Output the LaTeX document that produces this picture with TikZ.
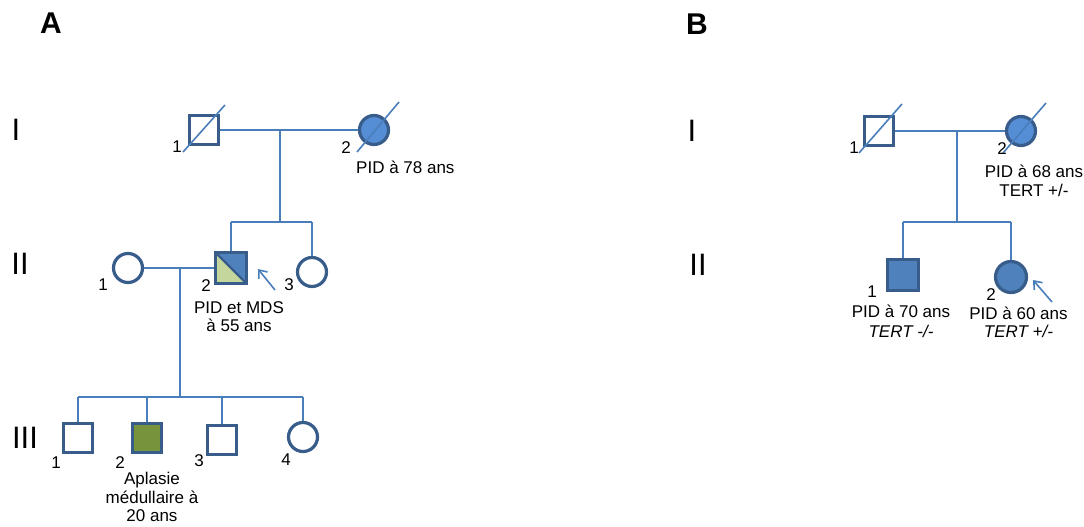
\documentclass[tikz,border=0pt]{standalone}
\usepackage{fontspec}
\setmainfont{Liberation Sans}
\usetikzlibrary{arrows.meta,calc}
\definecolor{outl}{HTML}{385D8A}
\definecolor{lnc}{HTML}{4A7EBB}
\definecolor{fblue}{HTML}{558ED5}
\definecolor{mblue}{HTML}{4F81BD}
\definecolor{lgreen}{HTML}{C3D69B}
\definecolor{olive}{HTML}{77933C}
\tikzset{
  sq/.style={draw=outl, line width=3.2pt, minimum size=29pt, inner sep=0pt, fill=white},
  ci/.style={draw=outl, line width=3.2pt, circle, minimum size=29pt, inner sep=0pt, fill=white},
  lnk/.style={draw=lnc, line width=1.6pt},
  diag/.style={draw=lnc, line width=1.6pt},
  arr/.style={draw=lnc, line width=1.6pt, -{Straight Barb[length=7pt,width=11pt,line width=1.6pt]}},
  txt/.style={font=\fontsize{17}{19}\selectfont, inner sep=0pt, align=center},
  gen/.style={font=\fontsize{31}{34}\selectfont, inner sep=0pt},
  pan/.style={font=\fontsize{30}{34}\selectfont\bfseries, inner sep=0pt}
}
\begin{document}
\begin{tikzpicture}[x=1pt,y=-1pt]
\useasboundingbox (0,0) rectangle (1084,527);
% panel labels
\node[pan] (PA) at (51,23) {A};
\node[pan] (PB) at (697,24) {B};
\node[gen] (gA1) at (16,130) {I};
\node[gen] (gA2) at (20,264) {II};
\node[gen] (gA3) at (25,438) {III};
\node[gen] (gB1) at (692,131) {I};
\node[gen] (gB2) at (698,265) {II};

% ===== Panel A =====
\node[sq] (AI1) at (204,130) {};
\node[ci, fill=fblue] (AI2) at (374,130) {};
\coordinate (Am1) at (280,130);
\coordinate (As1) at (280,222);
\draw[lnk] (AI1.east) -- (AI2.west);
\draw[lnk] (Am1) -- (As1);
\draw[diag] ($(AI1)+(-21,22)$) -- ($(AI1)+(21,-25)$);
\draw[diag] ($(AI2)+(-17,22)$) -- ($(AI2)+(25,-28)$);
\node[txt] (lAI1) at (177,147) {1};
\node[txt] (lAI2) at (346,148) {2};
\node[txt, anchor=west] (tAI2) at (356,167) {PID à 78 ans};

\node[ci] (AII1) at (128,268) {};
\node[sq, minimum size=31pt, fill=mblue,
  path picture={\fill[lgreen] (path picture bounding box.north west) -- (path picture bounding box.south west) -- (path picture bounding box.south east) -- cycle;
  \draw[outl, line width=2.2pt] (path picture bounding box.north west) -- (path picture bounding box.south east);}] (AII2) at (231,268) {};
\node[ci] (AII3) at (312,272) {};
\draw[lnk] (AII2.north |- As1) -- (AII3.north |- As1);
\draw[lnk] (AII2.north |- As1) -- (AII2.north);
\draw[lnk] (AII3.north |- As1) -- (AII3.north);
\draw[lnk] (AII1.east) -- (AII2.west);
\coordinate (Am2) at (180,268);
\coordinate (As2) at (180,397);
\draw[lnk] (Am2) -- (As2);
\node[txt] (lAII1) at (103,285) {1};
\node[txt] (lAII2) at (206,286) {2};
\node[txt] (lAII3) at (289,285) {3};
\coordinate (Aarr) at (275,290);
\draw[arr] (Aarr) -- ($(AII2)+(27,1)$);
\node[txt, font=\fontsize{17}{18.5}\selectfont] (tAII2) at (239,316.5) {PID et MDS\\à 55 ans};

\node[sq] (AIII1) at (78,438) {};
\node[sq, fill=olive] (AIII2) at (147,438) {};
\node[sq] (AIII3) at (222,440) {};
\node[ci] (AIII4) at (303,437) {};
\draw[lnk] (AIII1.north |- As2) -- (AIII4.north |- As2);
\draw[lnk] (AIII1.north |- As2) -- (AIII1.north);
\draw[lnk] (AIII2.north |- As2) -- (AIII2.north);
\draw[lnk] (AIII3.north |- As2) -- (AIII3.north);
\draw[lnk] (AIII4.north |- As2) -- (AIII4.north);
\node[txt] (lAIII1) at (56,463) {1};
\node[txt] (lAIII2) at (120,463) {2};
\node[txt] (lAIII3) at (199,461) {3};
\node[txt] (lAIII4) at (286,460) {4};
\node[txt, font=\fontsize{17}{18.3}\selectfont] (tAIII2) at (152,497) {Aplasie\\médullaire à\\20 ans};

% ===== Panel B =====
\node[sq] (BI1) at (879,131) {};
\node[ci, fill=fblue] (BI2) at (1021,131) {};
\coordinate (Bm1) at (957,131);
\coordinate (Bs1) at (957,222);
\draw[lnk] (BI1.east) -- (BI2.west);
\draw[lnk] (Bm1) -- (Bs1);
\draw[diag] ($(BI1)+(-20,22)$) -- ($(BI1)+(23,-27)$);
\draw[diag] ($(BI2)+(-18,22)$) -- ($(BI2)+(25,-28)$);
\node[txt] (lBI1) at (854,148) {1};
\node[txt] (lBI2) at (1002,149) {2};
\node[txt] (tBI2) at (1034,180.5) {PID à 68 ans\\TERT +/-};

\node[sq, minimum size=31pt, fill=mblue] (BII1) at (903,275) {};
\node[ci, minimum size=31pt, fill=mblue] (BII2) at (1011,277) {};
\draw[lnk] (BII1.north |- Bs1) -- (BII2.north |- Bs1);
\draw[lnk] (BII1.north |- Bs1) -- (BII1.north);
\draw[lnk] (BII2.north |- Bs1) -- (BII2.north);
\node[txt] (lBII1) at (872,292) {1};
\node[txt] (lBII2) at (991,295) {2};
\coordinate (Barr) at (1052,302);
\draw[arr] (Barr) -- ($(BII2)+(22,3)$);
\node[txt, font=\fontsize{17}{20}\selectfont] (tBII1) at (901,321) {PID à 70 ans\\\textit{TERT -/-}};
\node[txt, font=\fontsize{17}{18.5}\selectfont] (tBII2) at (1018.5,322.5) {PID à 60 ans\\\textit{TERT +/-}};
\end{tikzpicture}
\end{document}
